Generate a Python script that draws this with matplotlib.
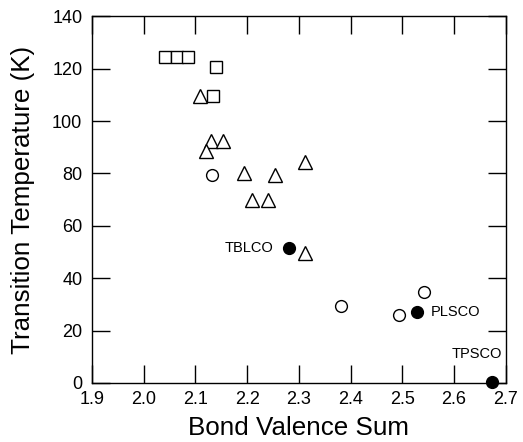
import matplotlib.pyplot as plt

plt.rcParams['font.family'] = ['Liberation Sans', 'DejaVu Sans']

# open squares
sq_bvs = [2.042, 2.064, 2.086, 2.140, 2.133]
sq_tc = [124.5, 124.5, 124.5, 120.5, 109.5]

# open triangles
tri_bvs = [2.108, 2.130, 2.153, 2.121, 2.193, 2.253, 2.311, 2.209, 2.241, 2.312]
tri_tc = [109.5, 92.5, 92.5, 88.5, 80.0, 79.5, 84.5, 69.8, 70.0, 49.5]

# open circles
oc_bvs = [2.132, 2.382, 2.493, 2.541]
oc_tc = [79.6, 29.5, 25.8, 34.8]

# filled circles with labels
fc_bvs = [2.281, 2.528, 2.673]
fc_tc = [51.5, 27.0, 0.3]
fc_names = ['TBLCO', 'PLSCO', 'TPSCO']

fig = plt.figure(figsize=(5.23, 4.42), dpi=100)
ax = fig.add_axes([0.176, 0.1335, 0.791, 0.8295])

ax.plot(sq_bvs, sq_tc, 's', ms=8, mfc='white', mec='black', mew=1.0, clip_on=False)
ax.plot(tri_bvs, tri_tc, '^', ms=9.5, mfc='white', mec='black', mew=1.0, clip_on=False)
ax.plot(oc_bvs, oc_tc, 'o', ms=8.5, mfc='white', mec='black', mew=1.0, clip_on=False)
ax.plot(fc_bvs, fc_tc, 'o', ms=8.5, mfc='black', mec='black', clip_on=False, zorder=5)

ax.annotate(fc_names[0], (fc_bvs[0], fc_tc[0]), xytext=(-11, 0), textcoords='offset points',
            ha='right', va='center', fontsize=10.5)
ax.annotate(fc_names[1], (fc_bvs[1], fc_tc[1]), xytext=(10, 0), textcoords='offset points',
            ha='left', va='center', fontsize=10.5)
ax.annotate(fc_names[2], (fc_bvs[2], fc_tc[2]), xytext=(-11, 20), textcoords='offset points',
            ha='center', va='center', fontsize=10.5)

ax.set_xlim(1.9, 2.7)
ax.set_ylim(0, 140)
ax.set_xticks([1.9, 2.0, 2.1, 2.2, 2.3, 2.4, 2.5, 2.6, 2.7])
ax.set_yticks(range(0, 141, 20))
ax.tick_params(direction='in', length=13, width=1.0, top=True, right=True, labelsize=13)
ax.tick_params(axis='x', pad=5.5)
ax.tick_params(axis='y', pad=7)
for s in ax.spines.values():
    s.set_linewidth(1.0)

ax.set_xlabel('Bond Valence Sum', fontsize=18.7)
ax.set_ylabel('Transition Temperature (K)', fontsize=18.7)
ax.xaxis.set_label_coords(0.5, -0.09)
ax.yaxis.set_label_coords(-0.138, 0.5)

fig.savefig('out.png', dpi=100)
